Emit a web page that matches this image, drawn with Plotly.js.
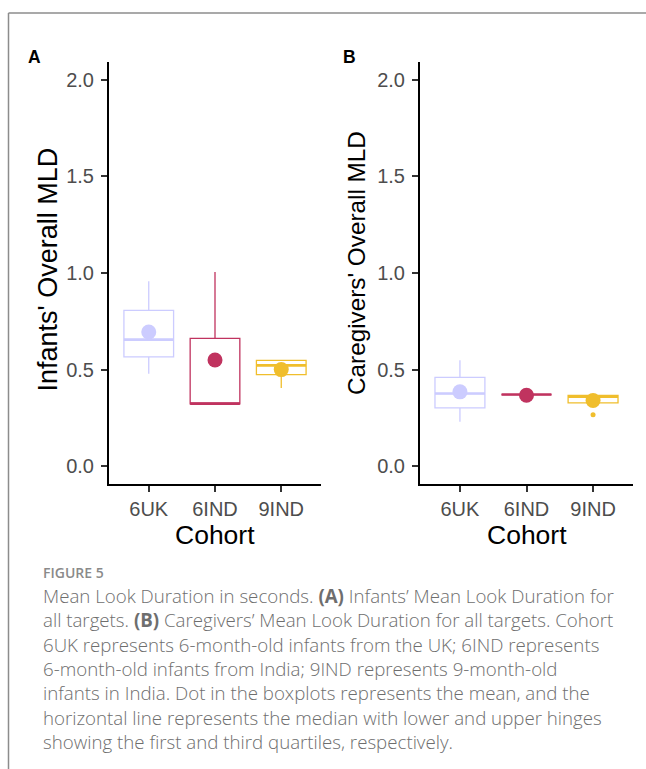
<!DOCTYPE html>
<html>
<head>
<meta charset="utf-8">
<script src="https://cdn.plot.ly/plotly-3.0.1.min.js"></script>
<style>html,body{margin:0;padding:0;background:#fff;}#chart{width:646px;height:769px;}</style>
</head>
<body>
<div id="chart"></div>
<script>
// ---- data ----
const cohorts = ["6UK", "6IND", "9IND"];
const colors = ["#CCCCFF", "#C0335F", "#F0BE2C"];

// Panel A: infants' overall MLD
const infLowerFence = [0.478, 0.323, 0.405];
const infQ1        = [0.566, 0.323, 0.474];
const infMedian    = [0.655, 0.323, 0.522];
const infQ3        = [0.807, 0.662, 0.548];
const infUpperFence= [0.957, 1.005, 0.548];
const infMean      = [0.695, 0.550, 0.500];

// Panel B: caregivers' overall MLD
const cgLowerFence = [0.230, 0.371, 0.328];
const cgQ1         = [0.302, 0.371, 0.328];
const cgMedian     = [0.376, 0.371, 0.360];
const cgQ3         = [0.460, 0.371, 0.366];
const cgUpperFence = [0.548, 0.371, 0.366];
const cgMean       = [0.385, 0.367, 0.340];
const cgOutlierCohort = ["9IND"];
const cgOutlierValue  = [0.266];

const yTicks = [0, 0.5, 1.0, 1.5, 2.0];
const yTickText = ["0.0", "0.5", "1.0", "1.5", "2.0"];

const captionHead = "FIGURE 5";
const captionLines = [
  "Mean Look Duration in seconds. <b>(A)</b> Infants\u2019 Mean Look Duration for",
  "all targets. <b>(B)</b> Caregivers\u2019 Mean Look Duration for all targets. Cohort",
  "6UK represents 6-month-old infants from the UK; 6IND represents",
  "6-month-old infants from India; 9IND represents 9-month-old",
  "infants in India. Dot in the boxplots represents the mean, and the",
  "horizontal line represents the median with lower and upper hinges",
  "showing the first and third quartiles, respectively."
];

// ---- build ----
const W = 646, H = 769;
const fx = p => p / W;
const fy = p => 1 - p / H;

const traces = [];
function addPanel(xa, ya, lf, q1, med, q3, uf, mean) {
  cohorts.forEach((c, i) => {
    traces.push({
      type: "box", xaxis: xa, yaxis: ya, x: [c],
      lowerfence: [lf[i]], q1: [q1[i]], median: [med[i]], q3: [q3[i]], upperfence: [uf[i]],
      width: 0.75, whiskerwidth: 0, boxpoints: false,
      line: { color: colors[i], width: 1.3 }, fillcolor: "rgba(255,255,255,0)",
      showlegend: false, hoverinfo: "skip"
    });
    // thicker median line
    traces.push({
      type: "box", xaxis: xa, yaxis: ya, x: [c],
      lowerfence: [med[i]], q1: [med[i]], median: [med[i]], q3: [med[i]], upperfence: [med[i]],
      width: 0.75, whiskerwidth: 0, boxpoints: false,
      line: { color: colors[i], width: 2.6 }, fillcolor: "rgba(255,255,255,0)",
      showlegend: false, hoverinfo: "skip"
    });
  });
  traces.push({
    type: "scatter", mode: "markers", xaxis: xa, yaxis: ya,
    x: cohorts, y: mean,
    marker: { color: colors, size: 15, line: { width: 0 } },
    showlegend: false, hoverinfo: "skip"
  });
}
addPanel("x", "y", infLowerFence, infQ1, infMedian, infQ3, infUpperFence, infMean);
addPanel("x2", "y2", cgLowerFence, cgQ1, cgMedian, cgQ3, cgUpperFence, cgMean);
traces.push({
  type: "scatter", mode: "markers", xaxis: "x2", yaxis: "y2",
  x: cgOutlierCohort, y: cgOutlierValue,
  marker: { color: colors[2], size: 5 }, showlegend: false, hoverinfo: "skip"
});

const tickFont = { family: "Liberation Sans, Arial, sans-serif", size: 20, color: "#4D4D4D" };
function xAxis(d0, d1, anchor) {
  return {
    domain: [fx(d0), fx(d1)], anchor: anchor, type: "category",
    categoryorder: "array", categoryarray: cohorts, range: [-0.6, 2.6],
    showline: true, linecolor: "#000", linewidth: 2, mirror: false,
    ticks: "outside", ticklen: 6, tickwidth: 2, tickcolor: "#333",
    showgrid: false, zeroline: false, tickfont: tickFont, fixedrange: true
  };
}
function yAxis(anchor) {
  return {
    domain: [fy(484), fy(62)], anchor: anchor, range: [-0.092, 2.092],
    tickvals: yTicks, ticktext: yTickText,
    showline: true, linecolor: "#000", linewidth: 2,
    ticks: "outside", ticklen: 6, tickwidth: 2, tickcolor: "#333",
    ticklabelstandoff: 3,
    showgrid: false, zeroline: false, tickfont: tickFont, fixedrange: true
  };
}

const fam = "Liberation Sans, Arial, sans-serif";
const titleFont = { family: fam, size: 26.5, color: "#000" };
const panelFont = { family: fam, size: 17.5, color: "#000" };
const annotations = [
  { text: "<b>A</b>", x: fx(34.5), y: fy(56.5), xref: "paper", yref: "paper", showarrow: false,
    font: panelFont, xanchor: "center", yanchor: "middle" },
  { text: "<b>B</b>", x: fx(349), y: fy(56.5), xref: "paper", yref: "paper", showarrow: false,
    font: panelFont, xanchor: "center", yanchor: "middle" },
  { text: "Infants' Overall MLD", x: fx(47), y: fy(269.5), xref: "paper", yref: "paper", showarrow: false,
    textangle: -90, font: { family: fam, size: 27, color: "#000" }, xanchor: "center", yanchor: "middle" },
  { text: "Caregivers' Overall MLD", x: fx(356), y: fy(263), xref: "paper", yref: "paper", showarrow: false,
    textangle: -90, font: { family: fam, size: 24.3, color: "#000" }, xanchor: "center", yanchor: "middle" },
  { text: "Cohort", x: fx(215), y: fy(535), xref: "paper", yref: "paper", showarrow: false,
    font: titleFont, xanchor: "center", yanchor: "middle" },
  { text: "Cohort", x: fx(527), y: fy(535), xref: "paper", yref: "paper", showarrow: false,
    font: titleFont, xanchor: "center", yanchor: "middle" },
  { text: captionHead, x: fx(42), y: fy(572.5), xref: "paper", yref: "paper", showarrow: false,
    font: { family: "Open Sans, sans-serif", size: 14, color: "#8A8A8A", weight: 600 },
    xanchor: "left", yanchor: "middle", borderpad: 0 },
  { text: captionLines.join("<br>"), x: fx(41.5), y: fy(668.5), xref: "paper", yref: "paper", showarrow: false,
    font: { family: "Open Sans, sans-serif", size: 18.7, color: "#6E6E6E", weight: 300 },
    xanchor: "left", yanchor: "middle", align: "left", borderpad: 0 }
];

const shapes = [
  { type: "line", xref: "paper", yref: "paper", x0: fx(8.5), x1: 1.01, y0: fy(13), y1: fy(13), line: { color: "#8C8C8C", width: 1.5 } },
  { type: "line", xref: "paper", yref: "paper", x0: fx(8.5), x1: fx(8.5), y0: fy(13), y1: -0.01, line: { color: "#8C8C8C", width: 1.5 } }
];

const layout = {
  width: W, height: H, autosize: false,
  margin: { l: 0, r: 0, t: 0, b: 0, pad: 0 },
  paper_bgcolor: "#fff", plot_bgcolor: "rgba(0,0,0,0)",
  showlegend: false,
  xaxis: xAxis(109, 321, "y"),
  yaxis: yAxis("x"),
  xaxis2: xAxis(420, 633, "y2"),
  yaxis2: yAxis("x2"),
  annotations: annotations,
  shapes: shapes
};

Plotly.newPlot("chart", traces, layout, { displayModeBar: false, staticPlot: true });
</script>
</body>
</html>
